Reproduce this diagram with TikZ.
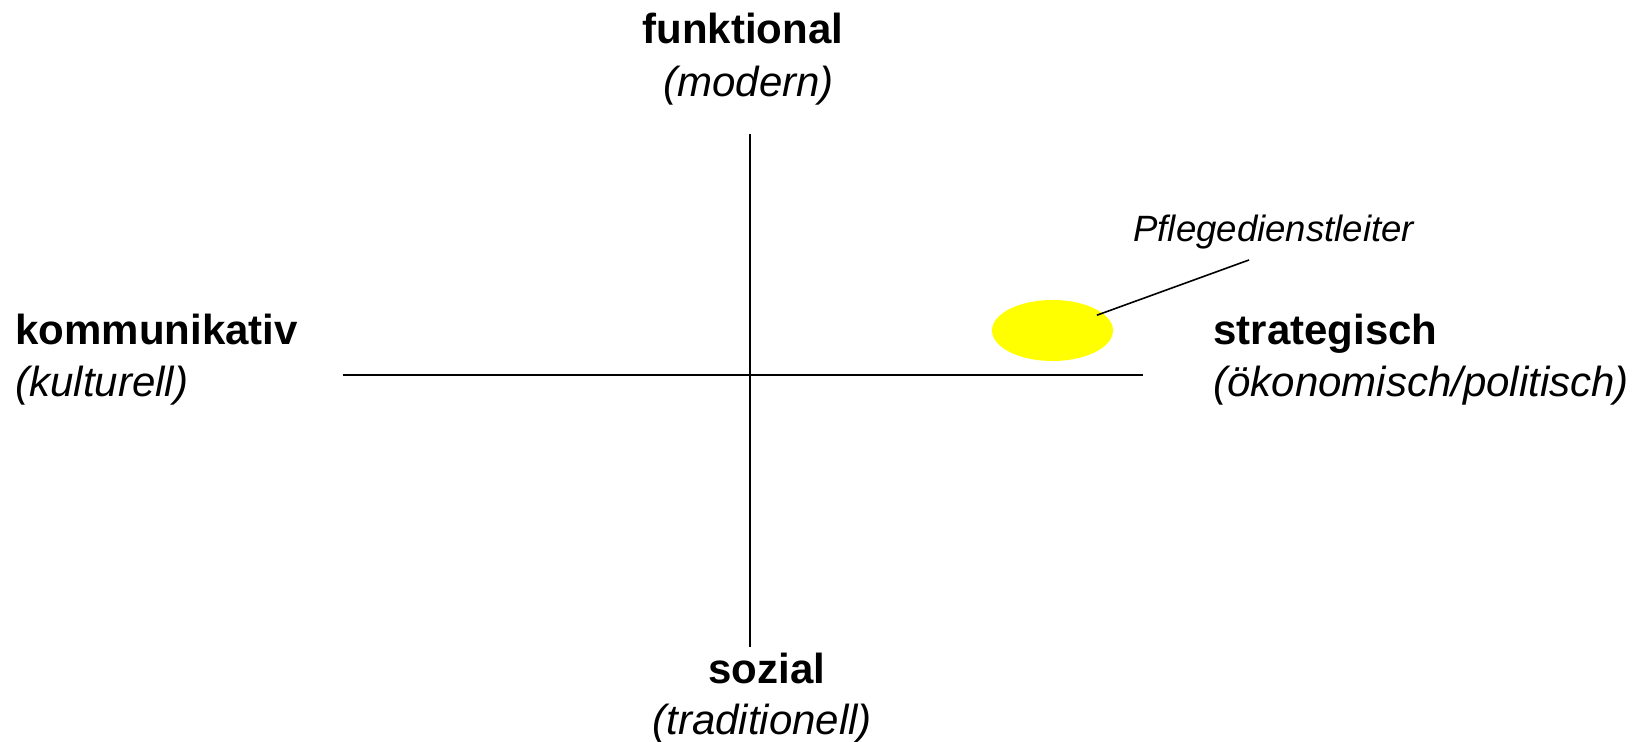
\documentclass[tikz,border=0pt]{standalone}
\usepackage{fontspec}
\setmainfont{Liberation Sans}
\usepackage{xcolor}
\usepackage{tikz}
\usetikzlibrary{
  positioning,
  calc,
  shapes.geometric
}
\definecolor{spotyellow}{RGB}{255,255,0}
\tikzset{
  polelabel/.style={
    inner sep=0pt,
    anchor=base west,
    font=\fontsize{21}{26}\selectfont\bfseries
  },
  polenote/.style={
    inner sep=0pt,
    anchor=base west,
    font=\fontsize{21}{26}\selectfont\itshape
  },
  rolenote/.style={
    inner sep=0pt,
    anchor=base west,
    font=\fontsize{18.3}{22}\selectfont\itshape
  },
  axisline/.style={line width=0.7pt,draw=black},
  rolespot/.style={ellipse,fill=spotyellow,inner sep=0pt,minimum width=60.5pt,minimum height=30.5pt},
  leader/.style={line width=0.8pt,draw=black}
}

\begin{document}
\begin{tikzpicture}[x=0.5pt,y=0.5pt]
  \useasboundingbox (-750,-367) rectangle (900,375);

  % axes
  \coordinate (top) at (0,241);
  \coordinate (bottom) at (0,-272);
  \coordinate (left) at (-407,0);
  \coordinate (right) at (393,0);
  \draw[axisline] (top) -- (bottom);
  \draw[axisline] (left) -- (right);

  % poles
  \node[polelabel] (funk) at (-108,331) {funktional};
  \node[polenote] (modern) at ([xshift=10.5pt,yshift=-26.5pt]funk.base west) {(modern)};
  \node[polelabel] (komm) at (-735,30) {kommunikativ};
  \node[polenote] (kultur) at ([yshift=-26pt]komm.base west) {(kulturell)};
  \node[polelabel] (strat) at (463,30) {strategisch};
  \node[polenote] (oekon) at ([yshift=-26pt]strat.base west) {(ökonomisch/politisch)};
  \node[polelabel] (sozial) at (-42,-309) {sozial};
  \node[polenote] (tradit) at ([xshift=-28pt,yshift=-25.5pt]sozial.base west) {(traditionell)};

  % role
  \node[rolespot] (pdl) at (302.5,44.5) {};
  \node[rolenote] (pdltext) at (383,133) {Pflegedienstleiter};
  \coordinate (pdltip) at (499,115);
  \draw[leader] ($(pdl.center)!0.88!(pdl.19)$) -- (pdltip);
\end{tikzpicture}
\end{document}
